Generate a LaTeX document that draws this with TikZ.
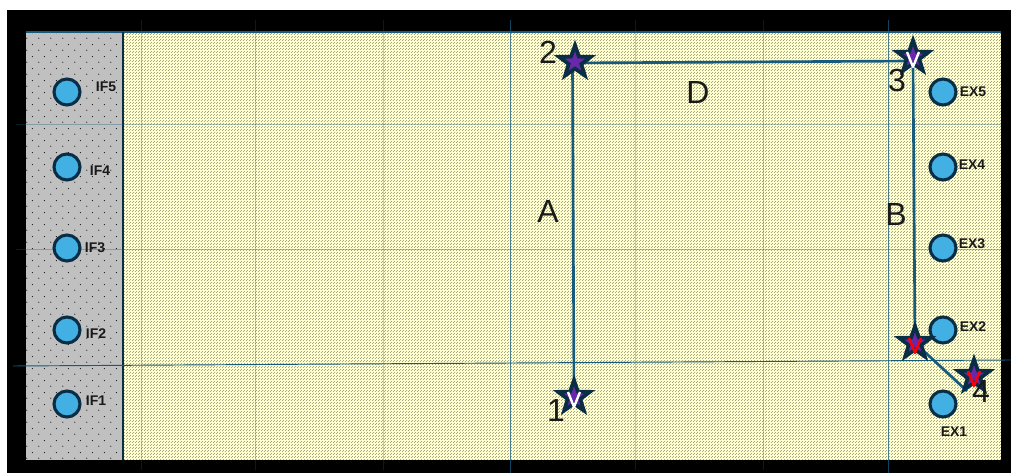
\documentclass[tikz,border=0pt]{standalone}
\usepackage{fontspec}
\setmainfont{Liberation Sans}
\usetikzlibrary{shapes.geometric, patterns, backgrounds, positioning, calc}
\definecolor{fieldyellow}{RGB}{255, 254, 205}
\definecolor{sidegray}{RGB}{192, 192, 192}
\definecolor{portblue}{RGB}{66, 176, 226}
\definecolor{routeteal}{RGB}{22, 90, 125}
\definecolor{darkedge}{RGB}{10, 45, 70}
\definecolor{starpurple}{RGB}{105, 40, 170}
\pgfdeclarepatternformonly{finedots}{\pgfqpoint{0pt}{0pt}}{\pgfqpoint{2.25pt}{2.25pt}}{\pgfqpoint{2.25pt}{2.25pt}}{
  \pgfpathcircle{\pgfqpoint{0.56pt}{0.56pt}}{0.3pt}
  \pgfpathcircle{\pgfqpoint{1.69pt}{1.69pt}}{0.3pt}
  \pgfusepath{fill}}
\pgfdeclarepatternformonly{sparsedots}{\pgfqpoint{0pt}{0pt}}{\pgfqpoint{9pt}{9pt}}{\pgfqpoint{9pt}{9pt}}{
  \pgfpathcircle{\pgfqpoint{2.25pt}{2.25pt}}{0.45pt}
  \pgfpathcircle{\pgfqpoint{6.75pt}{6.75pt}}{0.45pt}
  \pgfusepath{fill}}
\tikzset{
  port/.style={circle, draw=darkedge, fill=portblue, line width=2.3pt, minimum size=19.5pt, inner sep=0pt},
  portlabel/.style={font=\bfseries\fontsize{10.5pt}{11pt}\selectfont, text=black!90, inner sep=0pt},
  waypoint/.style={star, star points=5, star point ratio=2.5, minimum size=25pt, inner sep=0pt, draw=darkedge, fill=starpurple, line width=2.8pt},
  bigmark/.style={font=\fontsize{24pt}{26pt}\selectfont, text=black!90, inner sep=0pt},
  route/.style={draw=routeteal, line width=2pt},
  gridline/.style={draw=routeteal, line width=0.5pt},
  vtick/.style={line width=1.8pt, line join=round}
}
\newcommand{\vmark}[2]{\draw[vtick, #2] ($(#1)+(-6,-5)$) -- ($(#1)+(0,10)$) -- ($(#1)+(6,-5)$);}
\begin{document}
\begin{tikzpicture}[x=0.75pt, y=-0.75pt]
\useasboundingbox (0,0) rectangle (1011,473);
% ports
\foreach \n/\y in {1/404,2/330,3/248,4/167,5/92} {
  \node[port] (if\n) at (67,\y) {};
  \node[port] (ex\n) at (943,\y) {};
}
\node[portlabel] (iflabel5) at (106,87) {IF5};
\node[portlabel] (iflabel4) at (100,171) {IF4};
\node[portlabel] (iflabel3) at (95,248) {IF3};
\node[portlabel] (iflabel2) at (96,334) {IF2};
\node[portlabel] (iflabel1) at (96,401) {IF1};
\node[portlabel] (exlabel5) at (973,92) {EX5};
\node[portlabel] (exlabel4) at (972,165) {EX4};
\node[portlabel] (exlabel3) at (972,244) {EX3};
\node[portlabel] (exlabel2) at (973,327) {EX2};
\node[portlabel] (exlabel1) at (954,432) {EX1};
% waypoints
\node[waypoint] (wp1) at (574,397) {};
\node[waypoint] (wp2) at (575,62) {};
\node[waypoint] (wp3) at (913,57) {};
\node[waypoint] (wp4) at (915,343) {};
\node[waypoint] (wp5) at (974,376) {};
\vmark{wp1}{white}
\vmark{wp3}{white}
\vmark{wp4}{red}
\vmark{wp5}{red}
% big marks
\node[bigmark] (mark1) at (556,410) {1};
\node[bigmark] (mark2) at (548,52) {2};
\node[bigmark] (mark3) at (897,80) {3};
\node[bigmark] (mark4) at (981,391) {4};
\node[bigmark] (markA) at (548,211) {A};
\node[bigmark] (markB) at (896,214) {B};
\node[bigmark] (markD) at (698,92) {D};
\coordinate (routestart) at (572.5,63);
\coordinate (routecorner) at (913,61);
\coordinate (routeend) at (967,391);
\begin{scope}[on background layer]
\fill[black] (7,10) rectangle (1011,473);
\fill[sidegray] (26,32) rectangle (123,460);
\fill[fieldyellow] (123,32) rectangle (1001,460);
\fill[pattern=sparsedots, pattern color=black] (26,32) rectangle (123,460);
\fill[pattern=finedots, pattern color=black] (123,32) rectangle (1001,460);
\draw[routeteal, line width=1pt] (26,32) -- (1001,32);
\draw[darkedge, line width=1.8pt] (123,32) -- (123,460);
% faint grid
\foreach \x in {141,255,383,635,763} { \draw[gridline, opacity=0.3] (\x,20) -- (\x,470); }
\foreach \x in {510,888} { \draw[gridline, opacity=0.75] (\x,20) -- (\x,473); }
\foreach \y in {124,249} { \draw[gridline, opacity=0.35] (16,\y) -- (1001,\y); }
\draw[gridline, line width=0.7pt] (13,366) -- (1011,360);
% routes
\draw[route] (wp1.center) -- (routestart);
\draw[route] (routestart) -- (routecorner);
\draw[route] (routecorner) -- (wp4.center);
\draw[route] (wp4.center) -- (routeend);
\end{scope}
\end{tikzpicture}
\end{document}
